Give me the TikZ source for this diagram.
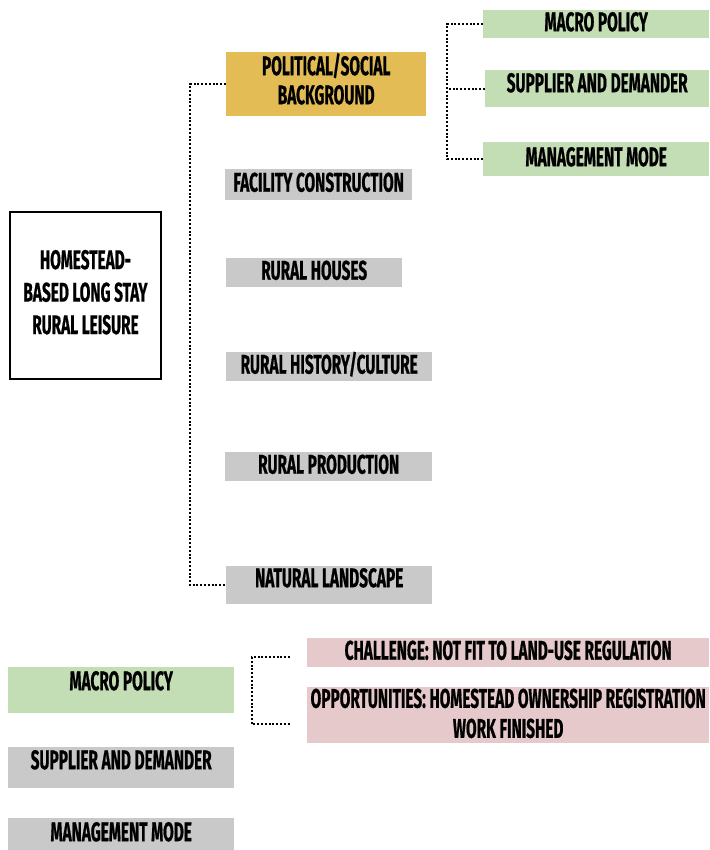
\documentclass[tikz,border=0pt]{standalone}
\usepackage{fontspec}
\setmainfont{Fira Sans}[FakeStretch=0.57,FakeBold=0.6]
\definecolor{goldfill}{HTML}{E3BC55}
\definecolor{greenfill}{HTML}{C3DDB4}
\definecolor{greyfill}{HTML}{C9C9C9}
\definecolor{pinkfill}{HTML}{E6C9CA}

\begin{document}
\begin{tikzpicture}[x=1pt,y=-1pt,
  box/.style={anchor=north west,inner sep=0pt,align=center,
    font=\fontsize{27}{30}\selectfont\bfseries},
  oneline/.style={text height=18pt,text depth=4pt},
  mainbox/.style={box,draw=black,line width=2pt,font=\fontsize{27}{32.5}\selectfont\bfseries},
  goldbox/.style={box,fill=goldfill,font=\fontsize{27}{29}\selectfont\bfseries},
  greybox/.style={box,oneline,fill=greyfill},
  greenbox/.style={box,oneline,fill=greenfill},
  pinkbox/.style={box,fill=pinkfill},
  conn/.style={line width=2pt,dash pattern=on 2pt off 1.8pt}]
\useasboundingbox (0,0) rectangle (709,850);

\node[mainbox,minimum width=151,minimum height=167,text depth=7pt](home) at (9,211){HOMESTEAD-\\BASED LONG STAY\\RURAL LEISURE};

\node[goldbox,minimum width=200,minimum height=64,text depth=11pt](pol) at (226,52){POLITICAL/SOCIAL\\BACKGROUND};
\node[greybox,minimum width=187,minimum height=31](fac) at (225,169){FACILITY CONSTRUCTION};
\node[greybox,minimum width=176,minimum height=29](hou) at (226,258){RURAL HOUSES};
\node[greybox,minimum width=206,minimum height=29](his) at (226,352){RURAL HISTORY/CULTURE};
\node[greybox,minimum width=207,minimum height=29](pro) at (225,452){RURAL PRODUCTION};
\node[greybox,minimum width=206,minimum height=38,text depth=14pt](nat) at (226,566){NATURAL LANDSCAPE};

\node[greenbox,minimum width=226,minimum height=28](mp1) at (483,10){MACRO POLICY};
\node[greenbox,minimum width=224,minimum height=37,text depth=11pt](sd1) at (485,70){SUPPLIER AND DEMANDER};
\node[greenbox,minimum width=226,minimum height=34](mm1) at (483,142){MANAGEMENT MODE};

\coordinate (trunk) at (190,0);
\coordinate (rtrunk) at (447,0);
\draw[conn](pol.west)--(pol.west -| trunk)|-(nat.west);
\draw[conn](mp1.west)--(mp1.west -| rtrunk)|-(mm1.west);
\draw[conn](sd1.west)--(sd1.west -| rtrunk);

% lower part
\node[greenbox,minimum width=226,minimum height=46,text depth=18pt](mp2) at (8,667){MACRO POLICY};
\node[greybox,minimum width=226,minimum height=41,text depth=15pt](sd2) at (8,747){SUPPLIER AND DEMANDER};
\node[greybox,minimum width=226,minimum height=32](mm2) at (8,818){MANAGEMENT MODE};

\node[pinkbox,oneline,minimum width=402,minimum height=29](chal) at (307,638){CHALLENGE: NOT FIT TO LAND-USE REGULATION};
\node[pinkbox,minimum width=402,minimum height=56,text depth=4pt](opp) at (307,687){OPPORTUNITIES: HOMESTEAD OWNERSHIP REGISTRATION\\WORK FINISHED};

\coordinate (chalend) at (290,657);
\coordinate (oppend) at (290,724);
\draw[conn](chalend)--(chalend -| 252,0)|-(oppend);
\end{tikzpicture}
\end{document}
